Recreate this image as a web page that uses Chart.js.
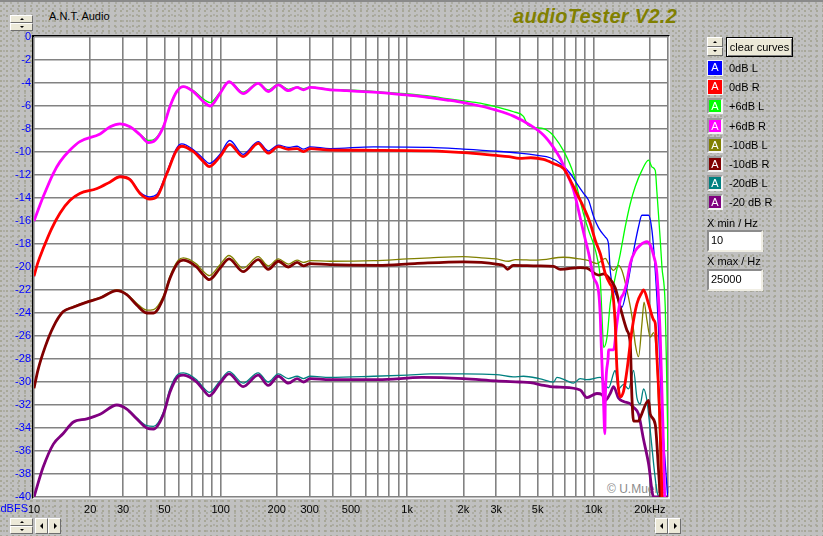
<!DOCTYPE html>
<html>
<head>
<meta charset="utf-8">
<title>audioTester V2.2</title>
<script src="https://cdn.jsdelivr.net/npm/chart.js@4/dist/chart.umd.min.js"></script>
<style>
html,body{margin:0;padding:0;}
body{width:823px;height:536px;overflow:hidden;position:relative;
  font-family:"Liberation Sans",Arial,sans-serif;font-size:11px;color:#000;
  background-color:#c0c0c0;
  background-image:radial-gradient(circle at 1px 1px,#a6a696 0.7px,transparent 1px),
                   radial-gradient(circle at 1px 1px,#acaca4 0.7px,transparent 1px);
  background-size:6px 5px,7px 6px;background-position:0 0,3px 2px;}
.abs{position:absolute;}
#topbar{left:0;top:0;width:823px;height:2px;background:#8a8a8a;}
#plotframe{left:32px;top:35px;width:634px;height:460px;background:#fff;
  border-top:2px solid #000;border-left:2px solid #000;border-right:2px solid #f2f2f2;border-bottom:2px solid #f2f2f2;}
#copy{left:607px;top:482px;font-size:12px;color:#8c8c8c;line-height:14px;white-space:nowrap;}
canvas#chart{position:absolute;left:0;top:0;}
#brand{left:49px;top:10px;line-height:13px;white-space:nowrap;}
#title{left:513px;top:5px;font-size:20px;font-weight:bold;font-style:italic;color:#808000;line-height:23px;white-space:nowrap;letter-spacing:0.3px;}
#dbfs{left:0;width:28px;top:502px;text-align:right;color:#0000ff;line-height:13px;}
.spin{box-sizing:border-box;}
.sb{box-sizing:border-box;height:50%;background:#ece9d8;border:1px solid;border-color:#fff #6e6e6e #6e6e6e #fff;position:relative;}
.tu,.td,.tl,.tr{position:absolute;width:0;height:0;}
.tu{left:50%;top:50%;margin-left:-2px;margin-top:-1px;border-left:2px solid transparent;border-right:2px solid transparent;border-bottom:2px solid #000;}
.td{left:50%;top:50%;margin-left:-2px;margin-top:-1px;border-left:2px solid transparent;border-right:2px solid transparent;border-top:2px solid #000;}
.btn{box-sizing:border-box;background:#ece9d8;border:1px solid;border-color:#fff #6e6e6e #6e6e6e #fff;position:absolute;}
.tl{left:50%;top:50%;margin-left:-2px;margin-top:-3px;border-top:3px solid transparent;border-bottom:3px solid transparent;border-right:3px solid #000;}
.tr{left:50%;top:50%;margin-left:-1px;margin-top:-3px;border-top:3px solid transparent;border-bottom:3px solid transparent;border-left:3px solid #000;}
#clear{left:726px;top:37px;width:67px;height:20px;border:1px solid #000;background:#ece9d8;box-shadow:inset 1px 1px 0 #fff,inset -1px -1px 0 #808080;text-align:center;line-height:18px;box-sizing:border-box;}
.leg{position:absolute;left:707px;height:16px;}
.sw{position:absolute;left:0;top:0;width:16px;height:16px;box-sizing:border-box;color:#fff;text-align:center;font-size:11px;line-height:13px;}
.sw.sel{border:1px solid #f4f4f4;}
.sw.nsel{border:2px solid;border-color:#9a9a9a #f4f4f4 #f4f4f4 #9a9a9a;}
.legtxt{position:absolute;left:22px;top:1px;line-height:14px;white-space:nowrap;}
.lbl{position:absolute;left:707px;line-height:13px;white-space:nowrap;}
.tbox{position:absolute;left:707px;width:56px;height:22px;box-sizing:border-box;background:#fff;border:2px solid;border-color:#8c8c8c #f0eee4 #f0eee4 #8c8c8c;padding-left:2px;line-height:17px;}
</style>
</head>
<body>
<div id="topbar" class="abs"></div>
<div class="spin abs" style="left:10px;top:15px;width:23px;height:16px"><div class="sb"><i class="tu"></i></div><div class="sb"><i class="td"></i></div></div>
<div id="brand" class="abs">A.N.T. Audio</div>
<div id="title" class="abs">audioTester V2.2</div>
<div id="plotframe" class="abs"></div>
<div id="copy" class="abs">© U.Mueller</div>
<canvas id="chart" width="823" height="536"></canvas>
<div id="dbfs" class="abs">dBFS</div>

<div class="spin abs" style="left:707px;top:37px;width:16px;height:19px"><div class="sb"><i class="tu"></i></div><div class="sb"><i class="td"></i></div></div>
<div id="clear" class="abs">clear curves</div>
<div id="legend"></div>
<div class="lbl" style="top:217px">X min / Hz</div>
<div class="tbox" style="top:230px">10</div>
<div class="lbl" style="top:255px">X max / Hz</div>
<div class="tbox" style="top:269px">25000</div>

<div class="spin abs" style="left:10px;top:518px;width:23px;height:16px"><div class="sb"><i class="tu"></i></div><div class="sb"><i class="td"></i></div></div>
<div class="btn" style="left:35px;top:518px;width:13px;height:16px"><i class="tl"></i></div>
<div class="btn" style="left:48px;top:518px;width:13px;height:16px"><i class="tr"></i></div>
<div class="btn" style="left:655px;top:518px;width:13px;height:16px"><i class="tl"></i></div>
<div class="btn" style="left:668px;top:518px;width:13px;height:16px"><i class="tr"></i></div>

<script>
// ---------- data (frequency in Hz, level in dBFS) ----------
const seriesNames = ["0dB L", "0dB R", "+6dB L", "+6dB R", "-10dB L", "-10dB R", "-20dB L", "-20 dB R"];
const seriesColors = ["#0000ff", "#ff0000", "#00ff00", "#ff00ff", "#808000", "#800000", "#008080", "#800080"];

const curve0dBL = [[10,-20.8],[10.5,-19.6],[11.2,-18.4],[12.4,-16.7],[13.8,-15.3],[15.6,-14.2],[17.6,-13.6],[21.6,-13.2],[25.6,-12.6],[28.9,-12.1],[32.7,-12.35],[37,-13.5],[41.8,-13.9],[45.5,-13.7],[51.6,-11.7],[58.2,-9.65],[61.9,-9.3],[71.5,-9.8],[81,-10.6],[87,-11.0],[99.3,-10.2],[112,-9.0],[132,-10.2],[159,-9.1],[180,-9.9],[204,-9.4],[231,-9.6],[257,-9.5],[278,-9.75],[302,-9.55],[386,-9.7],[660,-9.55],[1330,-9.6],[2000,-9.75],[3000,-9.93],[4000,-10.1],[5000,-10.3],[5840,-10.5],[6610,-11.0],[7480,-11.87],[8120,-12.75],[8820,-13.6],[9380,-14.2],[9977,-15.6],[10620,-16.6],[11540,-17.4],[12000,-18.0],[12250,-20.3],[13300,-22.6],[14160,-23.5],[15060,-21.8],[16350,-18.6],[17380,-16.5],[18120,-15.5],[19670,-15.5],[20500,-16.8],[21360,-20.3],[22250,-25.5],[23200,-32.8],[24170,-37.1],[24900,-40]];

const curve0dBR = [[10,-20.8],[10.5,-19.6],[11.2,-18.4],[12.4,-16.7],[13.8,-15.3],[15.6,-14.2],[17.6,-13.6],[21.6,-13.2],[25.6,-12.6],[28.9,-12.15],[32.7,-12.4],[37,-13.6],[41.8,-14.1],[45.5,-13.9],[51.6,-11.85],[58.2,-9.83],[61.9,-9.5],[71.5,-9.97],[81,-10.84],[87,-11.27],[99.3,-10.4],[112,-9.33],[132,-10.4],[159,-9.25],[180,-10.1],[204,-9.54],[231,-9.77],[257,-9.7],[278,-9.97],[302,-9.7],[386,-9.83],[660,-9.85],[1330,-9.9],[2000,-10.05],[3000,-10.3],[3500,-10.4],[4000,-10.55],[4600,-10.5],[5380,-10.65],[6090,-11.0],[6890,-11.45],[7480,-12.45],[8120,-13.6],[8820,-14.8],[9575,-16.2],[10190,-17.7],[10840,-18.85],[11540,-20.6],[12250,-21.5],[12520,-21.8],[13030,-24.9],[13300,-28.7],[13870,-31.3],[14450,-30.8],[15060,-29.0],[16020,-25.5],[17030,-23.2],[18120,-22.2],[18490,-22.0],[19670,-23.2],[20930,-24.6],[21360,-24.9],[21810,-27.8],[22730,-34.2],[23200,-40]];

const curve6dBL = [[10,-16.0],[11.2,-13.9],[12.7,-11.85],[13.8,-10.84],[15.6,-9.83],[17.6,-9.1],[22.6,-8.43],[25.6,-7.8],[28.9,-7.55],[32.7,-7.8],[37,-8.45],[41.1,-9.0],[44.6,-8.85],[49.4,-7.7],[53.5,-6.0],[58.2,-4.7],[63.2,-4.3],[71.5,-4.65],[81,-5.4],[87.9,-5.7],[99.3,-4.8],[111,-3.85],[132,-4.8],[159,-4.0],[180,-4.6],[204,-4.1],[231,-4.55],[257,-4.35],[278,-4.5],[302,-4.35],[386,-4.55],[475,-4.6],[659,-4.72],[880,-4.88],[1082,-5.0],[1328,-5.15],[1632,-5.35],[2000,-5.55],[2461,-5.75],[3000,-6.07],[3715,-6.5],[4200,-6.9],[4450,-7.7],[5388,-7.96],[5844,-8.3],[6090,-8.6],[6890,-9.9],[7790,-11.9],[8280,-13.6],[8820,-15.4],[9380,-16.8],[9977,-18.0],[10400,-19.1],[10840,-21.1],[11070,-24.3],[11300,-27.0],[11780,-26.1],[12250,-23.2],[13030,-20.9],[13870,-18.85],[14750,-16.5],[15690,-14.5],[16690,-13.0],[18120,-11.6],[19670,-10.7],[20500,-11.3],[21360,-11.6],[21810,-13.5],[22250,-15.5],[22730,-17.7],[23200,-20.0],[24170,-23.5],[24670,-30.7],[25000,-36.0]];

const curve6dBR = [[10,-16.0],[11.2,-13.9],[12.7,-11.85],[13.8,-10.84],[15.6,-9.83],[17.6,-9.1],[22.6,-8.43],[25.6,-7.8],[28.9,-7.55],[32.7,-7.8],[37,-8.5],[41.1,-9.18],[44.6,-8.98],[49.4,-7.8],[53.5,-6.06],[58.2,-4.75],[63.2,-4.32],[71.5,-4.75],[81,-5.63],[87.9,-6.0],[99.3,-4.9],[111,-3.89],[132,-4.93],[159,-4.03],[180,-4.75],[204,-4.17],[231,-4.67],[257,-4.38],[278,-4.6],[302,-4.38],[386,-4.6],[475,-4.67],[659,-4.8],[880,-4.96],[1082,-5.1],[1328,-5.28],[1632,-5.48],[2000,-5.7],[2461,-6.0],[3000,-6.36],[3715,-6.88],[4570,-7.67],[5388,-8.54],[6050,-9.55],[6610,-10.55],[7180,-11.87],[7790,-13.3],[8280,-15.05],[8820,-17.0],[9420,-18.9],[9977,-20.9],[10620,-22.2],[10840,-24.3],[10980,-27.0],[11260,-31.35],[11470,-34.5],[11540,-31.35],[11950,-27.8],[12000,-27.2],[12770,-27.2],[13300,-24.95],[13870,-22.9],[14450,-22.3],[14950,-21.5],[15690,-19.7],[16690,-18.6],[17750,-18.1],[19270,-17.8],[20080,-18.1],[20930,-19.0],[21810,-20.6],[22730,-26.1],[23530,-34.2],[23990,-40]];

const curveM10L = [[10,-30.55],[10.5,-28.96],[11.5,-26.9],[12.7,-25.2],[14.3,-23.9],[16.2,-23.45],[19.2,-23.0],[22.6,-22.65],[27.8,-22.0],[31.4,-22.35],[35.5,-23.15],[40.2,-23.75],[43.7,-23.7],[49.4,-22.5],[53.5,-20.8],[59.3,-19.4],[63.2,-19.2],[74.4,-19.75],[81,-20.4],[87,-20.75],[99.3,-19.8],[111,-19.0],[132,-20.1],[159,-19.1],[180,-19.9],[204,-19.3],[231,-19.75],[257,-19.4],[278,-19.6],[302,-19.45],[386,-19.5],[660,-19.45],[1000,-19.3],[1330,-19.2],[2000,-19.1],[2500,-19.2],[3000,-19.3],[3500,-19.5],[3800,-19.35],[5000,-19.4],[6890,-19.15],[8460,-19.3],[9190,-19.4],[10400,-19.7],[11540,-19.25],[12000,-19.7],[12770,-20.3],[13560,-19.85],[14160,-20.3],[15060,-22.0],[16020,-24.3],[16690,-26.7],[17380,-27.8],[18120,-24.95],[18600,-23.05],[19270,-24.6],[20080,-26.1],[20930,-25.7],[21810,-28.4],[22480,-34.2],[23000,-40]];

const curveM10R = [[10,-30.55],[10.5,-28.96],[11.5,-26.9],[12.7,-25.2],[14.3,-23.9],[16.2,-23.5],[19.2,-23.05],[22.6,-22.7],[27.8,-22.05],[31.4,-22.4],[35.5,-23.3],[40.2,-24.0],[43.7,-24.0],[49.4,-22.7],[53.5,-21.0],[59.3,-19.6],[63.2,-19.4],[74.4,-20.0],[81,-20.7],[87,-21.1],[99.3,-20.1],[111,-19.3],[132,-20.4],[159,-19.35],[180,-20.2],[204,-19.5],[231,-20.0],[257,-19.6],[278,-19.9],[302,-19.7],[386,-19.8],[700,-19.85],[1100,-19.7],[2000,-19.55],[2500,-19.6],[3000,-19.75],[3300,-19.9],[3450,-20.2],[3700,-19.85],[5000,-19.9],[6090,-19.95],[6610,-20.2],[8460,-20.05],[9190,-20.1],[10620,-20.7],[11300,-20.6],[12000,-20.9],[13030,-21.8],[13870,-23.5],[15060,-25.5],[15690,-26.7],[16020,-31.35],[16350,-33.4],[17380,-33.4],[17750,-33.1],[19670,-31.6],[20080,-32.8],[21360,-33.7],[22250,-37.7],[22730,-40]];

const curveM20L = [[10,-40],[11.2,-37.4],[12.7,-35.4],[14.3,-34.5],[16.2,-33.5],[19.2,-33.2],[22.6,-32.8],[27.8,-32.0],[31.4,-32.3],[35.5,-33.1],[40.2,-33.8],[43.7,-33.85],[49.4,-32.6],[53.5,-30.6],[59.3,-29.3],[63.2,-29.2],[74.4,-29.8],[81,-30.5],[87,-30.9],[99.3,-29.9],[111,-29.1],[132,-30.1],[159,-29.2],[180,-30.0],[204,-29.3],[231,-29.7],[257,-29.5],[278,-29.7],[302,-29.5],[386,-29.6],[660,-29.5],[1000,-29.4],[1330,-29.3],[2000,-29.3],[3000,-29.35],[3700,-29.55],[4200,-29.5],[5100,-29.7],[6090,-30.0],[6350,-29.6],[7180,-29.9],[7790,-30.1],[8460,-29.7],[9190,-29.8],[10840,-29.6],[11540,-30.3],[12000,-30.5],[13030,-29.0],[13560,-30.6],[14450,-30.2],[15370,-30.6],[16350,-29.0],[17030,-31.35],[17750,-31.9],[18490,-30.6],[19270,-31.6],[20080,-34.2],[20930,-37.1],[21810,-39.5],[22250,-40]];

const curveM20R = [[10,-40],[11.2,-37.4],[12.7,-35.4],[14.3,-34.5],[16.2,-33.5],[19.2,-33.2],[22.6,-32.8],[27.8,-32.0],[31.4,-32.35],[35.5,-33.2],[40.2,-34.0],[43.7,-34.1],[49.4,-32.8],[53.5,-30.9],[59.3,-29.5],[63.2,-29.4],[74.4,-30.0],[81,-30.7],[87,-31.2],[99.3,-30.1],[111,-29.3],[132,-30.4],[159,-29.4],[180,-30.3],[204,-29.5],[231,-30.1],[257,-29.7],[278,-30.0],[302,-29.7],[386,-29.8],[700,-29.8],[1200,-29.6],[2000,-29.7],[3000,-29.9],[4000,-30.0],[4570,-30.05],[5400,-30.3],[5840,-30.4],[6610,-30.45],[8460,-30.7],[9190,-31.35],[10400,-31.0],[11070,-31.1],[11540,-31.6],[12250,-31.0],[12770,-30.4],[13560,-31.4],[14450,-31.7],[15690,-31.9],[16350,-32.2],[17380,-32.8],[18490,-35.0],[19670,-37.1],[20930,-40],[25000,-40]];

const seriesCurves = [curve0dBL, curve0dBR, curve6dBL, curve6dBR, curveM10L, curveM10R, curveM20L, curveM20R];
const seriesThick = [false, true, false, true, false, true, false, true];

// axis ticks
const xGridValues = [10,20,30,40,50,60,70,80,90,100,200,300,400,500,600,700,800,900,1000,2000,3000,4000,5000,6000,7000,8000,9000,10000,20000,25000];
const xLabelValues = [10,20,30,50,100,200,300,500,1000,2000,3000,5000,10000,20000];
const xLabelTexts = ["10","20","30","50","100","200","300","500","1k","2k","3k","5k","10k","20kHz"];
const yMin = -40, yMax = 0, yStep = 2;

// ---------- legend panel ----------
const legend = document.getElementById('legend');
seriesNames.forEach((name, i) => {
  const row = document.createElement('div');
  row.className = 'leg';
  row.style.top = (60 + i * 19.2) + 'px';
  const sw = document.createElement('div');
  sw.className = 'sw ' + (i < 2 ? 'sel' : 'nsel');
  sw.style.background = seriesColors[i];
  sw.textContent = 'A';
  const tx = document.createElement('div');
  tx.className = 'legtxt';
  tx.textContent = name;
  row.appendChild(sw); row.appendChild(tx);
  legend.appendChild(row);
});

// ---------- chart ----------
Chart.defaults.font.family = "'Liberation Sans', Arial, sans-serif";
Chart.defaults.font.size = 11;

const datasets = seriesCurves.map((curve, i) => ({
  label: seriesNames[i],
  data: curve.map(p => ({ x: p[0], y: p[1] })),
  borderColor: seriesColors[i],
  backgroundColor: seriesColors[i],
  borderWidth: seriesThick[i] ? 2.8 : 1.3,
  pointRadius: 0,
  cubicInterpolationMode: 'monotone',
  fill: false,
  order: seriesThick[i] ? 1 : 2
}));

new Chart(document.getElementById('chart'), {
  type: 'line',
  data: { datasets },
  options: {
    responsive: false,
    animation: false,
    events: [],
    layout: { padding: { left: 0, top: 37, right: 155, bottom: 0 } },
    plugins: { legend: { display: false }, tooltip: { enabled: false } },
    scales: {
      x: {
        type: 'logarithmic',
        min: 10, max: 25000,
        afterBuildTicks: s => { s.ticks = xGridValues.map(v => ({ value: v })); },
        afterFit: s => { s.height = 39; },
        grid: { color: '#828282', lineWidth: 1.6, drawTicks: false },
        border: { display: false },
        ticks: {
          autoSkip: false, maxRotation: 0, minRotation: 0, padding: 6, color: '#000',
          callback: v => { const k = xLabelValues.indexOf(v); return k >= 0 ? xLabelTexts[k] : ''; }
        }
      },
      y: {
        type: 'linear',
        min: yMin, max: yMax,
        afterFit: s => { s.width = 34; },
        grid: { color: '#828282', lineWidth: 1.6, drawTicks: false },
        border: { display: false },
        ticks: { stepSize: yStep, autoSkip: false, padding: 3, color: '#0000ff', callback: v => String(v) }
      }
    }
  }
});
</script>
</body>
</html>
